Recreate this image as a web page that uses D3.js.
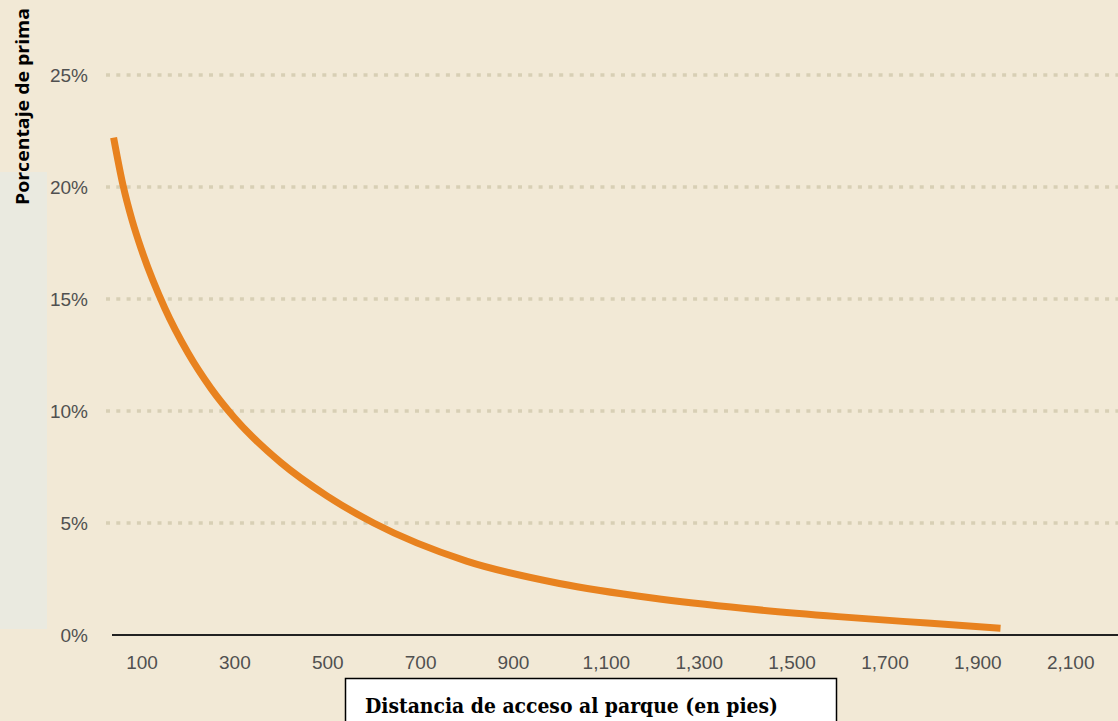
<!DOCTYPE html>
<html>
<head>
<meta charset="utf-8">
<script src="https://cdn.jsdelivr.net/npm/d3@7"></script>
<style>
  html, body { margin: 0; padding: 0; background: #f2e9d6; }
  svg { display: block; }
</style>
</head>
<body>
<svg id="chart" width="1118" height="721"></svg>
<script>
// Premium over property value by walking distance to the park
const distance = [40, 60, 80, 100, 150, 200, 250, 300, 400, 500, 600, 800, 1000, 1200, 1400, 1600, 1800, 1950];
const premium  = [22.2, 20.1, 18.5, 17.2, 14.6, 12.6, 11.0, 9.7, 7.7, 6.2, 5.0, 3.3, 2.3, 1.65, 1.18, 0.82, 0.52, 0.3];

const xTicks = [100, 300, 500, 700, 900, 1100, 1300, 1500, 1700, 1900, 2100];
const yTicks = [0, 5, 10, 15, 20, 25];

const yTitle = "Porcentaje de prima";
const xTitle = "Distancia de acceso al parque (en pies)";

const W = 1118, H = 721;
const svg = d3.select("#chart");

// background and side panel
svg.append("rect").attr("width", W).attr("height", H).attr("fill", "#f2e9d6");
svg.append("rect").attr("x", 0).attr("y", 172).attr("width", 47).attr("height", 457).attr("fill", "#eaeae0");

const x = d3.scaleLinear().domain([36.5, 2203]).range([112, 1118]);
const y = d3.scaleLinear().domain([0, 25]).range([635, 75]);

// dotted horizontal gridlines
svg.append("g")
  .selectAll("line")
  .data(yTicks.filter(d => d > 0))
  .join("line")
  .attr("x1", 106).attr("x2", W)
  .attr("y1", d => y(d)).attr("y2", d => y(d))
  .attr("stroke", "#d8cfb5")
  .attr("stroke-width", 3.5)
  .attr("stroke-dasharray", "4 6.3");

// y axis labels
const yAxis = d3.axisLeft(y).tickValues(yTicks).tickFormat(d => d + "%").tickSize(0).tickPadding(0);
const gy = svg.append("g").attr("transform", "translate(88,0)").call(yAxis);
gy.select(".domain").remove();
gy.selectAll("text")
  .attr("font-family", "Liberation Sans, Arial, sans-serif")
  .attr("font-size", 19)
  .attr("fill", "#505050")
  .attr("dy", "0.36em");

// x axis
const xAxis = d3.axisBottom(x).tickValues(xTicks).tickFormat(d3.format(",")).tickSize(0).tickPadding(0);
const gx = svg.append("g").attr("transform", "translate(0,635)").call(xAxis);
gx.select(".domain").remove();
gx.selectAll("text")
  .attr("font-family", "Liberation Sans, Arial, sans-serif")
  .attr("font-size", 19)
  .attr("fill", "#505050")
  .attr("y", 34)
  .attr("dy", 0);

svg.append("line")
  .attr("x1", 112).attr("x2", W)
  .attr("y1", 635).attr("y2", 635)
  .attr("stroke", "#222")
  .attr("stroke-width", 2);

// curve
const line = d3.line()
  .x((d, i) => x(distance[i]))
  .y(d => y(d))
  .curve(d3.curveMonotoneX);

svg.append("path")
  .datum(premium)
  .attr("d", line)
  .attr("fill", "none")
  .attr("stroke", "#e8821f")
  .attr("stroke-width", 7);

// y title
svg.append("text")
  .attr("transform", "translate(29,205) rotate(-90)")
  .attr("font-family", "Open Sans, sans-serif")
  .attr("font-weight", "bold")
  .attr("font-size", 17)
  .attr("textLength", 197)
  .attr("lengthAdjust", "spacingAndGlyphs")
  .attr("fill", "#000")
  .text(yTitle);

// x title box
svg.append("rect")
  .attr("x", 345.5).attr("y", 678.5)
  .attr("width", 491).attr("height", 60)
  .attr("fill", "#fff")
  .attr("stroke", "#000")
  .attr("stroke-width", 1.5);

svg.append("text")
  .attr("x", 365).attr("y", 713)
  .attr("font-family", "DejaVu Serif Condensed, DejaVu Serif, serif")
  .attr("font-weight", "bold")
  .attr("font-size", 21)
  .attr("textLength", 413)
  .attr("lengthAdjust", "spacingAndGlyphs")
  .attr("fill", "#000")
  .text(xTitle);
</script>
</body>
</html>
